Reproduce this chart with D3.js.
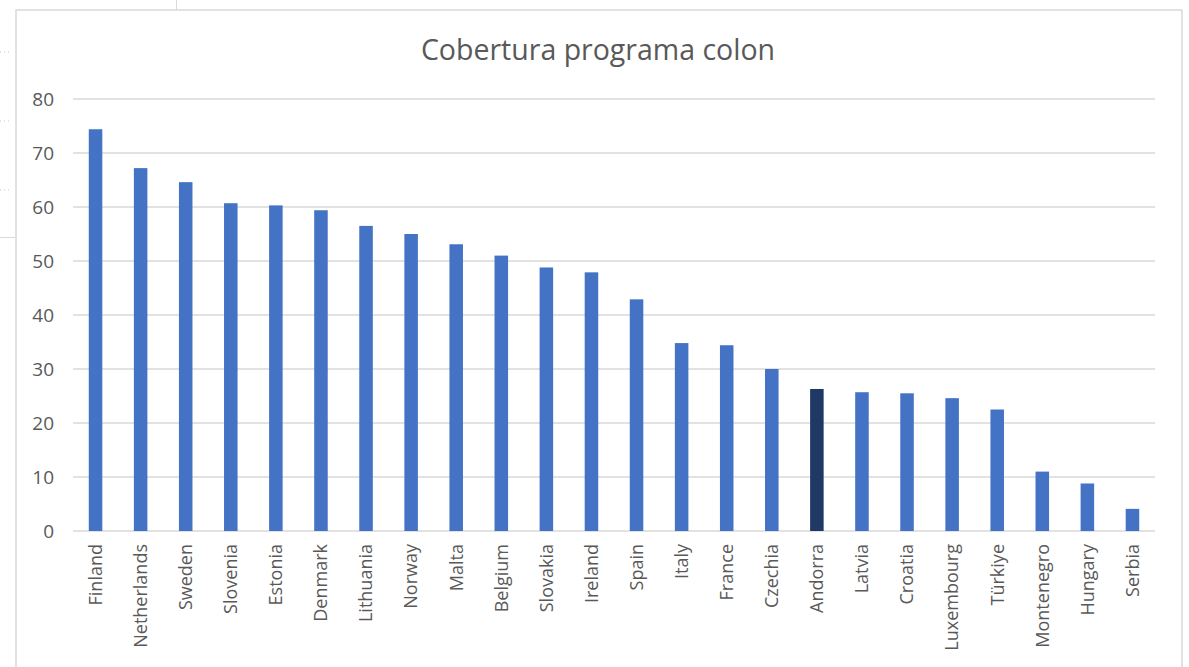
<!DOCTYPE html>
<html><head><meta charset="utf-8">
<script src="https://cdn.jsdelivr.net/npm/d3@7"></script>
<style>html,body{margin:0;padding:0;background:#fff;}</style>
</head><body>
<svg id="chart" width="1189" height="667"></svg>
<script>
const countries = ["Finland","Netherlands","Sweden","Slovenia","Estonia","Denmark","Lithuania","Norway","Malta","Belgium","Slovakia","Ireland","Spain","Italy","France","Czechia","Andorra","Latvia","Croatia","Luxembourg","Türkiye","Montenegro","Hungary","Serbia"];
const coverage = [74.4,67.2,64.6,60.7,60.3,59.4,56.5,55.0,53.1,51.0,48.8,47.9,42.9,34.8,34.4,30.0,26.3,25.7,25.5,24.6,22.5,11.0,8.8,4.1];
const yTicks = [0,10,20,30,40,50,60,70,80];
const highlight = "Andorra";
const title = "Cobertura programa colon";

const svg = d3.select("#chart");
const font = "'Open Sans', 'Noto Sans', sans-serif";

// decorative background bits (spreadsheet behind chart)
svg.append("line").attr("x1",176.5).attr("x2",176.5).attr("y1",0).attr("y2",10).attr("stroke","#d9d9d9");
svg.append("line").attr("x1",0).attr("x2",15).attr("y1",237.5).attr("y2",237.5).attr("stroke","#d9d9d9");
[52,121,190].forEach(y=>svg.append("line").attr("x1",0).attr("x2",12).attr("y1",y).attr("y2",y).attr("stroke","#c8c8c8").attr("stroke-dasharray","1,3"));

// chart frame
svg.append("rect").attr("x",16).attr("y",10).attr("width",1166).attr("height",670)
  .attr("fill","#fff").attr("stroke","#d9d9d9").attr("stroke-width",1.5);

const x = d3.scaleBand().domain(countries).range([73,1155]).paddingInner(0.7).paddingOuter(0.35);
const y = d3.scaleLinear().domain([0,80]).range([531,99]);

// gridlines
svg.append("g").selectAll("line").data(yTicks).join("line")
  .attr("x1",73).attr("x2",1155)
  .attr("y1",d=>y(d)).attr("y2",d=>y(d))
  .attr("stroke","#d9d9d9").attr("stroke-width",1.5);

// y axis labels
const yAxis = d3.axisLeft(y).tickValues(yTicks).tickSize(0).tickPadding(0);
const ya = svg.append("g").attr("transform","translate(54,0)").call(yAxis);
ya.select(".domain").remove();
ya.selectAll("text").attr("font-family",font).attr("font-size",19).attr("fill","#595959");

// bars
svg.append("g").selectAll("rect").data(countries).join("rect")
  .attr("x",d=>x(d)).attr("width",x.bandwidth())
  .attr("y",(d,i)=>y(coverage[i])).attr("height",(d,i)=>y(0)-y(coverage[i]))
  .attr("fill",d=>d===highlight?"#203864":"#4472c4");

// x labels
const xAxis = d3.axisBottom(x).tickSize(0).tickPadding(0);
const xa = svg.append("g").attr("transform","translate(0,531)").call(xAxis);
xa.select(".domain").remove();
xa.selectAll("text")
  .attr("font-family",font).attr("font-size",18).attr("fill","#595959")
  .attr("text-anchor","end")
  .attr("transform","rotate(-90)")
  .attr("x",-13).attr("y",0).attr("dy","0.35em");

// title
svg.append("text").attr("x",598).attr("y",60).attr("text-anchor","middle")
  .attr("font-family",font).attr("font-size",28.5).attr("fill","#595959").text(title);
</script>
</body></html>
